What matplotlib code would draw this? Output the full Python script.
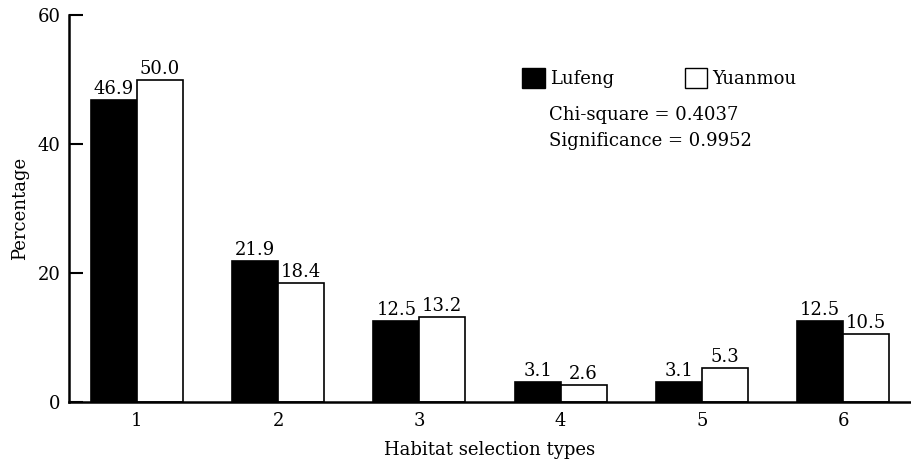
import matplotlib.pyplot as plt
from matplotlib.patches import Patch
import numpy as np

types = ['1', '2', '3', '4', '5', '6']
lufeng = [46.9, 21.9, 12.5, 3.1, 3.1, 12.5]
yuanmou = [50.0, 18.4, 13.2, 2.6, 5.3, 10.5]

plt.rcParams['font.family'] = ['DejaVu Serif']
plt.rcParams['font.size'] = 13

fig = plt.figure(figsize=(9.11, 4.65), dpi=100)
ax = fig.add_axes([0.0757, 0.1355, 0.9243, 0.8322])

x = np.arange(1, len(types) + 1)
w = 0.325
b1 = ax.bar(x - w / 2, lufeng, w, color='black', edgecolor='black', linewidth=1.2)
b2 = ax.bar(x + w / 2, yuanmou, w, color='white', edgecolor='black', linewidth=1.2)

for bars, vals in ((b1, lufeng), (b2, yuanmou)):
    for r, v in zip(bars, vals):
        ax.text(r.get_x() + r.get_width() / 2, v + 0.3, f'{v:.1f}',
                ha='center', va='bottom')

ax.set_xlim(0.52, 6.48)
ax.set_ylim(0, 60)
ax.set_xticks(x)
ax.set_xticklabels(types)
ax.set_yticks([0, 20, 40, 60])
ax.tick_params(axis='y', direction='in', length=10, width=1.5, pad=6)
ax.tick_params(axis='x', length=0, pad=7)
for s in ('top', 'right'):
    ax.spines[s].set_visible(False)
ax.spines['left'].set_linewidth(1.8)
ax.spines['bottom'].set_linewidth(1.8)

ax.set_xlabel('Habitat selection types', labelpad=8)
ax.set_ylabel('Percentage', labelpad=6)

handles = [Patch(facecolor='black', edgecolor='black', label='Lufeng'),
           Patch(facecolor='white', edgecolor='black', label='Yuanmou')]
ax.legend(handles=handles, ncol=2, frameon=False, loc='upper left',
          bbox_to_anchor=(0.538, 0.864), handlelength=1.25, handleheight=1.35,
          handletextpad=0.3, columnspacing=3.9, borderaxespad=0, borderpad=0)

ax.text(0.570, 0.7416, 'Chi-square = 0.4037', transform=ax.transAxes,
        ha='left', va='center')
ax.text(0.570, 0.674, 'Significance = 0.9952', transform=ax.transAxes,
        ha='left', va='center')

fig.savefig('out.png', dpi=100)
